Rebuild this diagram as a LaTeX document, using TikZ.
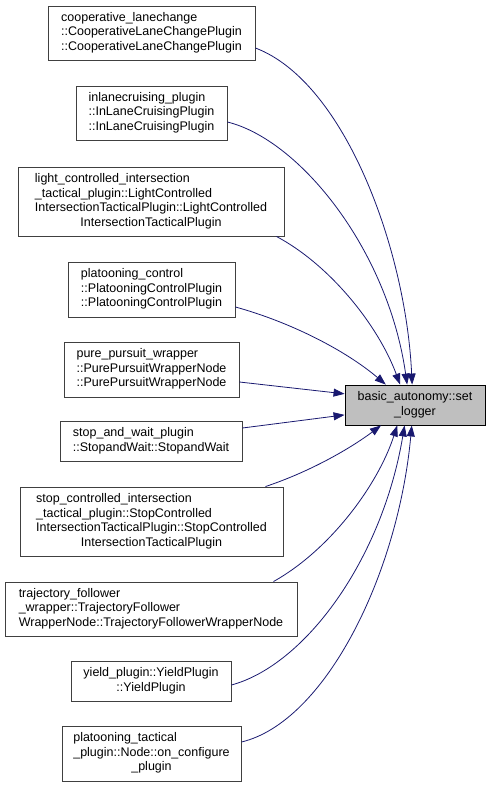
\documentclass[tikz,border=0pt]{standalone}
\usepackage{fontspec}
\setmainfont{Liberation Sans}
\usetikzlibrary{arrows.meta}
\definecolor{edgeblue}{HTML}{191970}
\definecolor{boxgrey}{HTML}{404040}
\definecolor{targetfill}{HTML}{BFBFBF}
\newcommand{\dxtab}[2]{\begin{tabular}{@{}l@{}}#1\\\multicolumn{1}{@{}c@{}}{#2}\end{tabular}}
\begin{document}
\begin{tikzpicture}[x=1pt,y=-1pt,
  every node/.style={font=\fontsize{12.5}{14.5}\selectfont},
  srcbox/.style={draw=boxgrey, line width=0.9pt, fill=white, inner sep=0pt, rectangle},
  tgtbox/.style={draw=black, line width=0.9pt, fill=targetfill, inner sep=0pt, rectangle},
  conn/.style={draw=edgeblue, line width=0.8pt, -{Triangle[length=11pt,width=8pt]}}
]
\useasboundingbox (0,0) rectangle (491,787);

\node[tgtbox, minimum width=140pt, minimum height=40pt] (t) at (415,405)
  {\dxtab{basic\_autonomy::set}{\_logger}};

\node[srcbox, minimum width=207pt, minimum height=54pt] (n1) at (151.5,33)
  {\dxtab{cooperative\_lanechange\\::CooperativeLaneChangePlugin}{::CooperativeLaneChangePlugin}};
\node[srcbox, minimum width=151pt, minimum height=54pt] (n2) at (151.5,113)
  {\dxtab{inlanecruising\_plugin\\::InLaneCruisingPlugin}{::InLaneCruisingPlugin}};
\node[srcbox, minimum width=266pt, minimum height=69pt] (n3) at (151,201.5)
  {\dxtab{light\_controlled\_intersection\\\_tactical\_plugin::LightControlled\\IntersectionTacticalPlugin::LightControlled}{IntersectionTacticalPlugin}};
\node[srcbox, minimum width=167pt, minimum height=55pt] (n4) at (151.5,289.5)
  {\dxtab{platooning\_control\\::PlatooningControlPlugin}{::PlatooningControlPlugin}};
\node[srcbox, minimum width=175pt, minimum height=55pt] (n5) at (151.5,369.5)
  {\dxtab{pure\_pursuit\_wrapper\\::PurePursuitWrapperNode}{::PurePursuitWrapperNode}};
\node[srcbox, minimum width=182pt, minimum height=40pt] (n6) at (151,441)
  {\dxtab{stop\_and\_wait\_plugin}{::StopandWait::StopandWait}};
\node[srcbox, minimum width=263pt, minimum height=69pt] (n7) at (151.5,521.5)
  {\dxtab{stop\_controlled\_intersection\\\_tactical\_plugin::StopControlled\\IntersectionTacticalPlugin::StopControlled}{IntersectionTacticalPlugin}};
\node[srcbox, minimum width=292pt, minimum height=54pt] (n8) at (151,609)
  {\dxtab{trajectory\_follower\\\_wrapper::TrajectoryFollower}{WrapperNode::TrajectoryFollowerWrapperNode}};
\node[srcbox, minimum width=160pt, minimum height=40pt] (n9) at (151,681)
  {\dxtab{yield\_plugin::YieldPlugin}{::YieldPlugin}};
\node[srcbox, minimum width=179pt, minimum height=55pt] (n10) at (151.5,753.5)
  {\dxtab{platooning\_tactical\\\_plugin::Node::on\_configure}{\_plugin}};

\draw[conn] ([yshift=-15pt]n1.east) .. controls (345,82) and (406,250) .. (t.98.5);
\draw[conn] ([yshift=-9pt]n2.east) .. controls (300,140) and (388,250) .. (t.111.8);
\draw[conn] ([xshift=-8pt]n3.south east) .. controls (330,265) and (378,325) .. (t.126.9);
\draw[conn] ([yshift=-17.5pt]n4.east) .. controls (290,322) and (345,350) .. (t.145.4);
\draw[conn] ([yshift=-12.5pt]n5.east) -- (t.171);
\draw[conn] ([yshift=13pt]n6.east) -- (t.188.1);
\draw[conn] ([xshift=-18pt]n7.north east) .. controls (315,470) and (355,445) .. (t.211.2);
\draw[conn] ([xshift=-24pt]n8.north east) .. controls (330,550) and (378,485) .. (t.229.6);
\draw[conn] ([yshift=-4pt]n9.east) .. controls (305,665) and (382,560) .. (t.243.4);
\draw[conn] ([yshift=11.5pt]n10.east) .. controls (325,722) and (398,575) .. (t.261.5);
\end{tikzpicture}
\end{document}
